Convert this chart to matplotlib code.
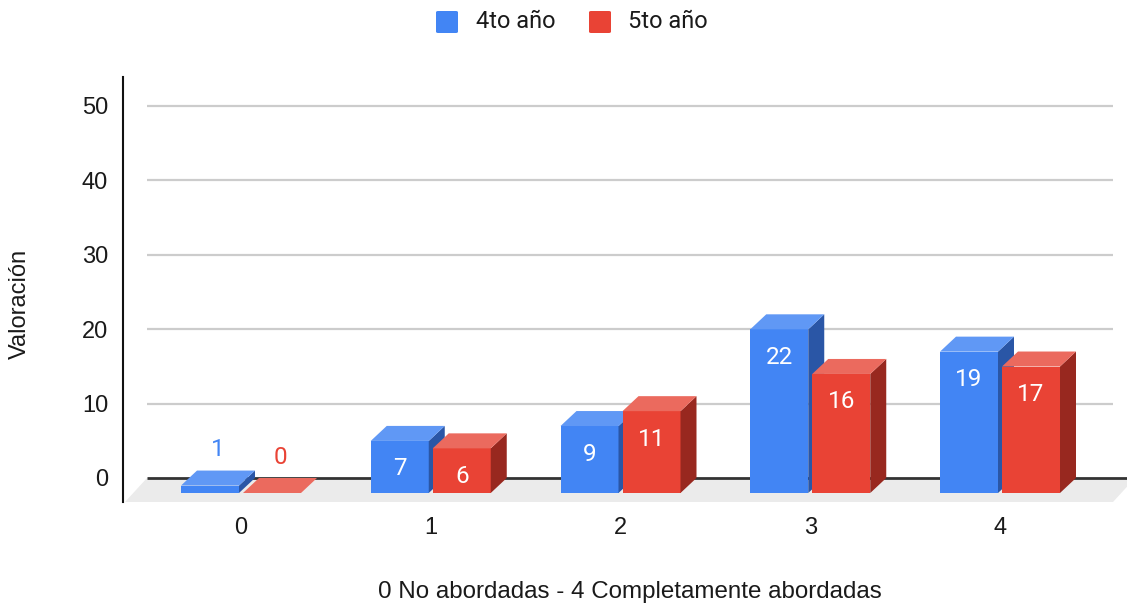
import matplotlib
matplotlib.use("Agg")
import matplotlib.pyplot as plt
from matplotlib.patches import Polygon, Rectangle, FancyBboxPatch

# Data
categories = ["0", "1", "2", "3", "4"]
series_names = ["4to año", "5to año"]
cuarto = [1, 7, 9, 22, 19]
quinto = [0, 6, 11, 16, 17]
y_ticks = [0, 10, 20, 30, 40, 50]
x_title = "0 No abordadas - 4 Completamente abordadas"
y_title = "Valoración"

# Face colours: front, top, side
palette = [
    ("#4285f4", "#6098f5", "#2a56a6"),
    ("#e94335", "#eb6a5e", "#98281f"),
]

W, H, DPI = 1127, 606, 100
PT = 72 / DPI  # points per pixel
fig = plt.figure(figsize=(W / DPI, H / DPI), dpi=DPI)

# Axes frame in pixels (left, right, bottom, top measured from top edge)
ax_l, ax_r, ax_b, ax_t = 147, 1113, 502, 77
ax = fig.add_axes([ax_l / W, 1 - ax_b / H, (ax_r - ax_l) / W, (ax_b - ax_t) / H])

# Scales: px per category and px per unit value
px_cat = 189.75
px_val = 7.44
cat0_px = 241.0
zero_px = 478.0
ax.set_xlim((ax_l - cat0_px) / px_cat, (ax_r - cat0_px) / px_cat)
ax.set_ylim(-(ax_b - zero_px) / px_val, (zero_px - ax_t) / px_val)

# 3D depth in data units
dx = 16 / px_cat
dy = 15 / px_val
bar_w = 58 / px_cat
gap = 4 / px_cat
floor_dx = 22 / px_cat
floor_dy = 24 / px_val

text_c = "#1a1a1a"

for s in ax.spines.values():
    s.set_visible(False)
ax.spines["left"].set_visible(True)
ax.spines["left"].set_position(("outward", 24 * PT))
ax.spines["left"].set_color("#111111")
ax.spines["left"].set_linewidth(1.5)

ax.set_yticks(y_ticks)
ax.set_yticklabels([str(t) for t in y_ticks], fontsize=17, family="Liberation Sans", color=text_c)
ax.tick_params(axis="y", length=0, pad=15 * PT)
ax.set_xticks([])
for t in y_ticks[1:]:
    ax.axhline(t, color="#cccccc", lw=1.6, zorder=0)

# Floor
x_floor_l = (125 - cat0_px) / px_cat
x_floor_r = (ax_r - cat0_px) / px_cat
floor = Polygon([(x_floor_l, -floor_dy), (x_floor_r, -floor_dy),
                 (x_floor_r + floor_dx, 0), (x_floor_l + floor_dx, 0)],
                closed=True, facecolor="#ebebeb", edgecolor="none", zorder=1, clip_on=False)
ax.add_patch(floor)
ax.plot([x_floor_l + floor_dx, x_floor_r + floor_dx], [0, 0], color="#333333", lw=2,
        zorder=2, clip_on=False, solid_capstyle="butt")

values = [cuarto, quinto]
for si, vals in enumerate(values):
    front_c, top_c, side_c = palette[si]
    for i, v in enumerate(vals):
        x0 = i - gap / 2 - bar_w if si == 0 else i + gap / 2
        x1 = x0 + bar_w
        z = 3 + i * 2 + si
        if v > 0:
            # front face
            ax.add_patch(Rectangle((x0, -dy), bar_w, v, facecolor=front_c,
                                   edgecolor="none", zorder=z))
            # side face
            ax.add_patch(Polygon([(x1, -dy), (x1, v - dy), (x1 + dx, v), (x1 + dx, 0)],
                                 closed=True, facecolor=side_c, edgecolor="none", zorder=z))
        # top face
        ax.add_patch(Polygon([(x0, v - dy), (x1, v - dy), (x1 + dx, v), (x0 + dx, v)],
                             closed=True, facecolor=top_c, edgecolor="none", zorder=z))
        # value label
        xc = (x0 + x1) / 2
        if v * px_val > 30:
            ax.text(xc, v - dy - 28 / px_val, str(v), ha="center", va="center",
                    color="white", fontsize=17.5, family="Roboto", zorder=20)
        else:
            ax.text(xc + dx / 2, v + 21 / px_val, str(v), ha="center", va="center",
                    color=front_c, fontsize=17.5, family="Roboto", zorder=20)

# Category labels under the bars
for i, c in enumerate(categories):
    ax.text(i, -(528 - zero_px) / px_val, c, ha="center", va="center",
            fontsize=17, family="Liberation Sans", color=text_c, clip_on=False)

# Axis titles
fig.text(630 / W, 1 - 592 / H, x_title, ha="center", va="center",
         fontsize=17.4, family="Liberation Sans", color=text_c)
fig.text(20 / W, 1 - 304 / H, y_title, ha="center", va="center", rotation=90,
         fontsize=17, family="Liberation Sans", color=text_c)

# Legend
leg_items = [(436, 476), (589, 628)]
for (sq_x, tx_x), name, cols in zip(leg_items, series_names, palette):
    fig.patches.append(FancyBboxPatch(
        (sq_x / W, 1 - 33 / H), 22 / W, 22 / H,
        boxstyle="round,pad=0,rounding_size=0.002", transform=fig.transFigure,
        facecolor=cols[0], edgecolor="none"))
    fig.text(tx_x / W, 1 - 22 / H, name, ha="left", va="center",
             fontsize=17, family="Roboto", color=text_c)

fig.savefig("out.png", dpi=DPI)
